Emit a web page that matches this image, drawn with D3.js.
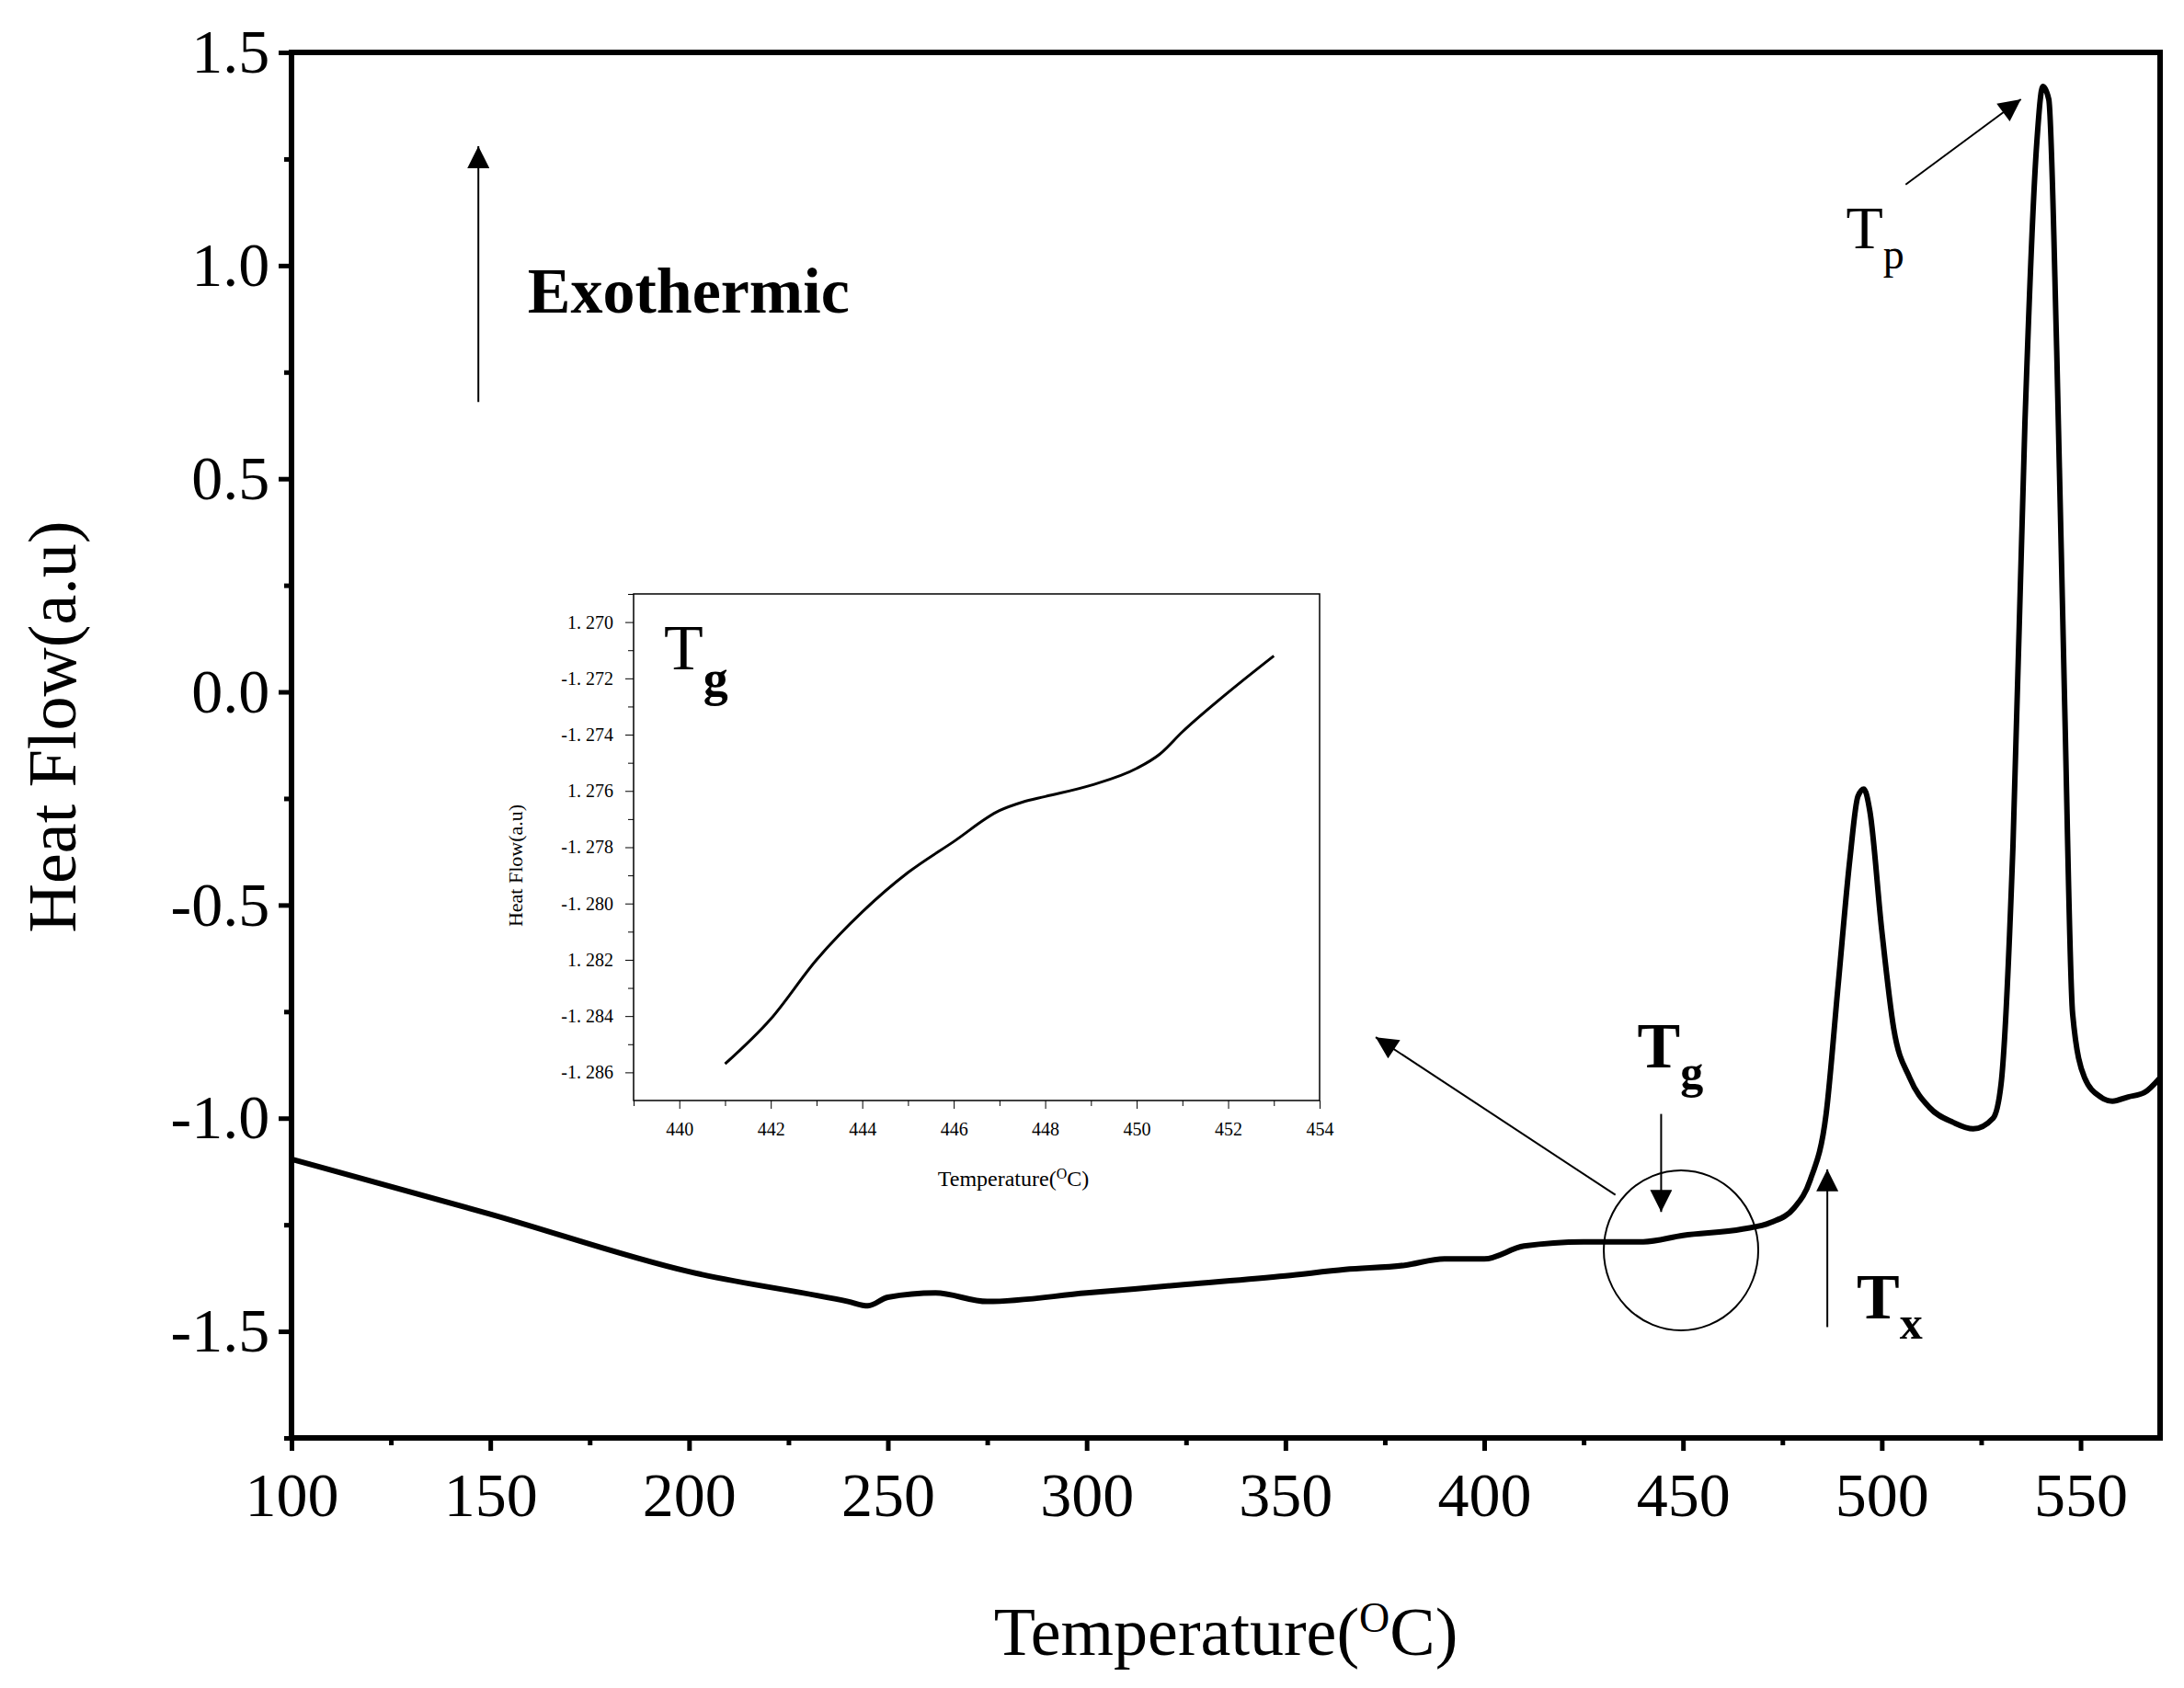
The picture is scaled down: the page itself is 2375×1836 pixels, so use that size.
<!DOCTYPE html>
<html>
<head>
<meta charset="utf-8">
<script src="https://cdn.jsdelivr.net/npm/d3@7"></script>
<style>
  body { margin: 0; background: #fff; }
  text { font-family: "Liberation Serif", "Times New Roman", serif; }
</style>
</head>
<body>
<div id="chart"></div>
<script>
// main DSC curve: temperature (°C) and heat flow (a.u)
const temps = [100, 150, 200, 240, 245, 250, 262, 275, 300, 325, 350, 365, 380, 390, 400, 410, 425, 440, 450, 465, 472, 478, 482, 486, 489, 492, 494, 495.5, 497, 500, 503, 507, 512, 518, 523, 528, 530, 533, 536, 539, 540.5, 542, 544, 546, 548, 551, 555, 558, 562, 566, 570];
const heatFlow = [-1.096, -1.225, -1.36, -1.43, -1.44, -1.42, -1.41, -1.43, -1.41, -1.39, -1.37, -1.355, -1.345, -1.33, -1.33, -1.30, -1.29, -1.29, -1.275, -1.26, -1.245, -1.21, -1.145, -0.99, -0.69, -0.39, -0.245, -0.228, -0.28, -0.56, -0.79, -0.905, -0.975, -1.01, -1.025, -1.0, -0.92, -0.36, 0.63, 1.29, 1.42, 1.39, 0.8, -0.03, -0.755, -0.905, -0.95, -0.96, -0.95, -0.94, -0.905];
const xTicks = [100, 150, 200, 250, 300, 350, 400, 450, 500, 550];
const yTicks = [-1.5, -1.0, -0.5, 0.0, 0.5, 1.0, 1.5];

// inset (Tg region)
const insetTemps = [441, 442, 443, 444, 445, 446, 447, 447.5, 448, 449, 450, 450.5, 451, 452, 453];
const insetFlow = [-1.2857, -1.2841, -1.2820, -1.2803, -1.2789, -1.2778, -1.2767, -1.2764, -1.2762, -1.2758, -1.2752, -1.2747, -1.2739, -1.2725, -1.2712];
const insetXTicks = [440, 442, 444, 446, 448, 450, 452, 454];
const insetYTicks = [-1.270, -1.272, -1.274, -1.276, -1.278, -1.280, -1.282, -1.284, -1.286];
const insetYLabels = ["1. 270", "-1. 272", "-1. 274", "1. 276", "-1. 278", "-1. 280", "1. 282", "-1. 284", "-1. 286"];

const W = 2375, H = 1836;
const L = 317, R = 2349, T = 57, B = 1564;

const svg = d3.select("#chart").append("svg").attr("width", W).attr("height", H);

svg.append("defs").append("marker")
  .attr("id", "arr").attr("viewBox", "0 0 10 10").attr("refX", 10).attr("refY", 5)
  .attr("markerWidth", 30).attr("markerHeight", 24).attr("markerUnits", "userSpaceOnUse")
  .attr("orient", "auto")
  .append("path").attr("d", "M0,0 L10,5 L0,10 z").attr("fill", "#000");

const x = d3.scaleLinear().domain([100, 570]).range([L, R]);
const y = d3.scaleLinear().domain([-1.75, 1.5]).range([B, T]);

// axes
const xAxis = svg.append("g").attr("transform", `translate(0,${B})`)
  .call(d3.axisBottom(x).tickValues(xTicks).tickSize(14).tickFormat(d3.format("d")));
svg.append("g").attr("transform", `translate(0,${B})`)
  .call(d3.axisBottom(x).tickValues(d3.range(125, 570, 50)).tickSize(8).tickFormat(""));
const yAxis = svg.append("g").attr("transform", `translate(${L},0)`)
  .call(d3.axisLeft(y).tickValues(yTicks).tickSize(14).tickFormat((d) => d.toFixed(1)));
svg.append("g").attr("transform", `translate(${L},0)`)
  .call(d3.axisLeft(y).tickValues(d3.range(-1.75, 1.5, 0.5)).tickSize(8).tickFormat(""));
svg.selectAll(".domain").remove();
svg.selectAll(".tick line").attr("stroke-width", 5);
xAxis.selectAll("text").attr("font-size", 68).attr("dy", "1.0em");
yAxis.selectAll("text").attr("font-size", 68).attr("dx", "-0.1em");

svg.append("rect").attr("x", L).attr("y", T).attr("width", R - L).attr("height", B - T)
  .attr("fill", "none").attr("stroke", "#000").attr("stroke-width", 6);

// axis titles
svg.append("text").attr("x", (L + R) / 2).attr("y", 1800).attr("text-anchor", "middle")
  .attr("font-size", 74).html('Temperature(<tspan baseline-shift="super" font-size="46">O</tspan>C)');
svg.append("text").attr("transform", `translate(82,${(T + B) / 2 - 20}) rotate(-90)`)
  .attr("text-anchor", "middle").attr("font-size", 74).text("Heat Flow(a.u)");

// curve
const line = d3.line().x((d) => x(d[0])).y((d) => y(d[1])).curve(d3.curveMonotoneX);
svg.append("path").datum(temps.map((t, i) => [t, heatFlow[i]]))
  .attr("d", line).attr("fill", "none").attr("stroke", "#000").attr("stroke-width", 6);

// annotations
function arrow(x1, y1, x2, y2) {
  svg.append("line").attr("x1", x(x1)).attr("y1", y(y1)).attr("x2", x(x2)).attr("y2", y(y2))
    .attr("stroke", "#000").attr("stroke-width", 2).attr("marker-end", "url(#arr)");
}
arrow(147, 0.68, 147, 1.28);
svg.append("text").attr("x", x(159.4)).attr("y", y(0.89)).attr("font-size", 70)
  .attr("font-weight", "bold").text("Exothermic");
arrow(506, 1.19, 535, 1.39);
svg.append("text").attr("x", x(491)).attr("y", y(1.04)).attr("font-size", 66)
  .html('T<tspan dy="22" font-size="46">p</tspan>');
svg.append("text").attr("x", x(438.5)).attr("y", y(-0.88)).attr("font-size", 70).attr("font-weight", "bold")
  .html('T<tspan dy="22" font-size="50">g</tspan>');
arrow(444.5, -0.99, 444.5, -1.22);
svg.append("ellipse").attr("cx", x(449.5)).attr("cy", y(-1.31)).attr("rx", 84).attr("ry", 87)
  .attr("fill", "none").attr("stroke", "#000").attr("stroke-width", 2);
arrow(433, -1.18, 372.7, -0.81);
arrow(486.3, -1.49, 486.3, -1.12);
svg.append("text").attr("x", x(493.7)).attr("y", y(-1.47)).attr("font-size", 70).attr("font-weight", "bold")
  .html('T<tspan dy="22" font-size="50">x</tspan>');

// inset
const iL = 689, iR = 1435, iT = 646, iB = 1197;
const ix = d3.scaleLinear().domain([439, 454]).range([iL, iR]);
const iy = d3.scaleLinear().domain([-1.287, -1.269]).range([iB, iT]);
const inset = svg.append("g");
inset.append("rect").attr("x", iL).attr("y", iT).attr("width", iR - iL).attr("height", iB - iT)
  .attr("fill", "#fff").attr("stroke", "#000").attr("stroke-width", 1.5);
const ixa = inset.append("g").attr("transform", `translate(0,${iB})`)
  .call(d3.axisBottom(ix).tickValues(insetXTicks).tickSize(9).tickFormat(d3.format("d")));
inset.append("g").attr("transform", `translate(0,${iB})`)
  .call(d3.axisBottom(ix).tickValues(d3.range(439, 455, 2)).tickSize(6).tickFormat(""));
const iya = inset.append("g").attr("transform", `translate(${iL},0)`)
  .call(d3.axisLeft(iy).tickValues(insetYTicks).tickSize(9).tickFormat((d, i) => insetYLabels[i]));
inset.append("g").attr("transform", `translate(${iL},0)`)
  .call(d3.axisLeft(iy).tickValues(d3.range(-1.285, -1.269, 0.002)).tickSize(6).tickFormat(""));
inset.selectAll(".domain").remove();
ixa.selectAll("text").attr("font-size", 20).attr("dy", "1.3em");
iya.selectAll("text").attr("font-size", 20).attr("dx", "-0.5em");
inset.append("text").attr("x", (iL + iR) / 2 + 40).attr("y", 1290).attr("text-anchor", "middle")
  .attr("font-size", 24).html('Temperature(<tspan baseline-shift="super" font-size="16">O</tspan>C)');
inset.append("text").attr("transform", `translate(568,${(iT + iB) / 2 + 20}) rotate(-90)`)
  .attr("text-anchor", "middle").attr("font-size", 22).text("Heat Flow(a.u)");
inset.append("text").attr("x", 722).attr("y", 728).attr("font-size", 70)
  .html('T<tspan dy="28" font-size="54" font-weight="bold">g</tspan>');
inset.append("path").datum(insetTemps.map((t, i) => [t, insetFlow[i]]))
  .attr("d", d3.line().x((d) => ix(d[0])).y((d) => iy(d[1])).curve(d3.curveMonotoneX))
  .attr("fill", "none").attr("stroke", "#000").attr("stroke-width", 3);
</script>
</body>
</html>
